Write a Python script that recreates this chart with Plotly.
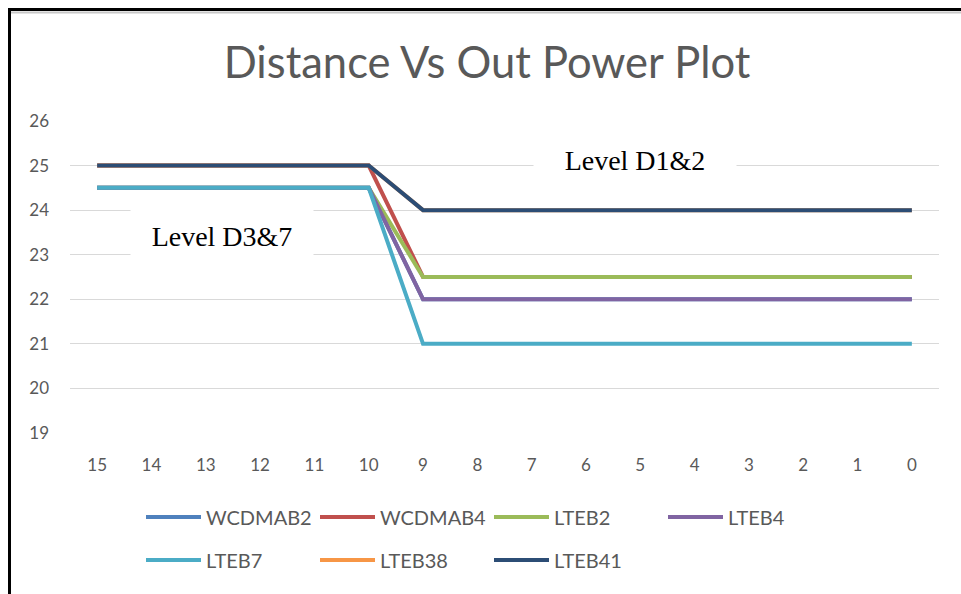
import plotly.graph_objects as go

distance = [15, 14, 13, 12, 11, 10, 9, 8, 7, 6, 5, 4, 3, 2, 1, 0]
series_names = ["WCDMAB2", "WCDMAB4", "LTEB2", "LTEB4", "LTEB7", "LTEB38", "LTEB41"]
wcdmab2 = [24.5] * 6 + [22.0] * 10
wcdmab4 = [25.0] * 6 + [22.5] * 10
lteb2 = [24.5] * 6 + [22.5] * 10
lteb4 = [24.5] * 6 + [22.0] * 10
lteb7 = [24.5] * 6 + [21.0] * 10
lteb38 = [25.0] * 6 + [24.0] * 10
lteb41 = [25.0] * 6 + [24.0] * 10
series_values = [wcdmab2, wcdmab4, lteb2, lteb4, lteb7, lteb38, lteb41]
colors = ["#4F81BD", "#C0504D", "#9BBB59", "#8064A2", "#4BACC6", "#F79646", "#2C4D75"]
y_ticks = [19, 20, 21, 22, 23, 24, 25, 26]

fig = go.Figure()
for i, (name, vals, c) in enumerate(zip(series_names, series_values, colors)):
    fig.add_trace(go.Scatter(
        x=distance, y=vals, name=name, mode="lines",
        line=dict(color=c, width=4),
        legend="legend" if i < 4 else "legend2",
    ))

W, H = 961, 594
L, R, T, B = 70, 22, 121, 161
pw, ph = W - L - R, H - T - B

def px_x(p):  # screen x -> paper
    return (p - L) / pw

def px_y(p):  # screen y -> paper
    return (H - B - p) / ph

gray = "#595959"
legend_common = dict(orientation="h", xanchor="left", yanchor="middle",
                     entrywidth=104, entrywidthmode="pixels",
                     font=dict(family="Lato", size=20, color=gray), itemwidth=55,
                     bgcolor="rgba(0,0,0,0)")
fig.update_layout(
    width=W, height=H,
    margin=dict(l=L, r=R, t=T, b=B),
    paper_bgcolor="white", plot_bgcolor="white",
    title=dict(text="Distance Vs Out Power Plot", x=487 / W, xanchor="center",
               y=1 - 63 / H, yanchor="middle",
               font=dict(family="Lato", size=43.5, color=gray)),
    xaxis=dict(range=[15.5, -0.5], tickvals=distance, ticktext=[str(d) for d in distance],
               showgrid=False, zeroline=False, showline=False, ticks="",
               ticklabelstandoff=20,
               tickfont=dict(family="Lato", size=17, color=gray)),
    yaxis=dict(range=[19, 26], tickvals=y_ticks, showgrid=True, gridcolor="#D9D9D9",
               gridwidth=1, zeroline=False, showline=False, ticks="",
               ticklabelstandoff=20,
               tickfont=dict(family="Lato", size=17, color=gray)),
    legend=dict(x=px_x(141), y=px_y(517), **legend_common),
    legend2=dict(x=px_x(141), y=px_y(560), **legend_common),
    annotations=[
        dict(text="Level D1&2", x=px_x(635), y=px_y(160), xref="paper", yref="paper",
             xanchor="center", yanchor="middle",
             showarrow=False, font=dict(family="Liberation Serif", size=28, color="black"),
             bgcolor="white", width=200, height=46),
        dict(text="Level D3&7", x=px_x(222), y=px_y(236), xref="paper", yref="paper",
             xanchor="center", yanchor="middle",
             showarrow=False, font=dict(family="Liberation Serif", size=28, color="black"),
             bgcolor="white", width=180, height=66),
    ],
    shapes=[
        dict(type="line", xref="paper", yref="paper", x0=px_x(8), x1=px_x(961),
             y0=px_y(9.5), y1=px_y(9.5), line=dict(color="black", width=3)),
        dict(type="line", xref="paper", yref="paper", x0=px_x(10), x1=px_x(961),
             y0=px_y(12.5), y1=px_y(12.5), line=dict(color="#C8C8C8", width=2)),
        dict(type="line", xref="paper", yref="paper", x0=px_x(9.5), x1=px_x(9.5),
             y0=px_y(8), y1=px_y(594), line=dict(color="black", width=3)),
    ],
)

fig.write_html(
    "out.html",
    config={"displayModeBar": False},
    post_script="document.body.style.margin='0';"
                "document.documentElement.style.overflow='hidden';"
                "document.body.style.overflow='hidden';",
)
